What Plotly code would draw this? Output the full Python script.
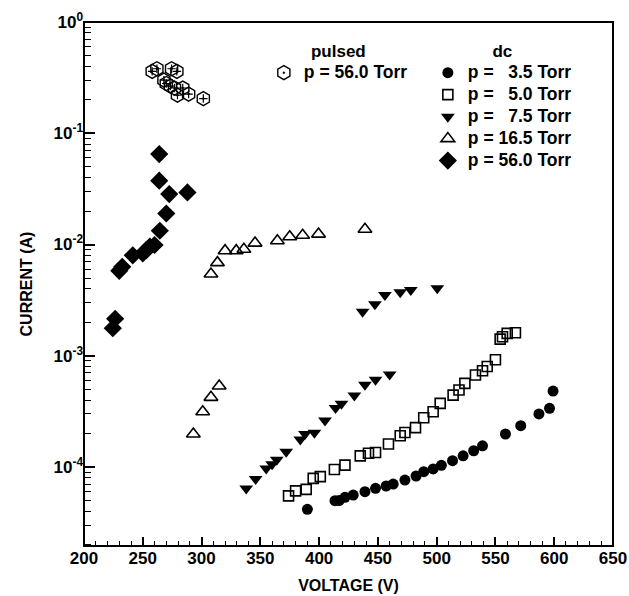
import plotly.graph_objects as go

# ---------------- data ----------------
pulsed_56_V = [258, 262, 274.5, 279, 268, 270, 273.5, 277, 284, 279.5, 289, 301.5]
pulsed_56_I = [0.36, 0.38, 0.38, 0.36, 0.30, 0.28, 0.265, 0.255, 0.255, 0.22, 0.225, 0.205]

dc_35_V = [390, 413.5, 417, 422, 429, 439, 448, 457, 463, 473, 482.5, 489, 497, 504,
           513.5, 522.5, 531.5, 539, 558.5, 571.5, 587, 596, 599]
dc_35_I = [4.17e-5, 4.98e-5, 5.0e-5, 5.34e-5, 5.6e-5, 6.0e-5, 6.43e-5, 6.75e-5, 7.03e-5,
           7.64e-5, 8.3e-5, 9.07e-5, 9.6e-5, 1.035e-4, 1.14e-4, 1.26e-4, 1.40e-4, 1.55e-4,
           1.98e-4, 2.35e-4, 3.0e-4, 3.37e-4, 4.82e-4]

dc_50_V = [374, 380, 389, 395, 401, 413, 422, 435, 442, 448, 459, 469, 473, 482, 489,
           497, 503, 514, 519, 524, 533, 539, 543, 550, 554, 556, 560, 567]
dc_50_I = [5.5e-5, 6.1e-5, 6.3e-5, 7.9e-5, 8.2e-5, 9.5e-5, 1.04e-4, 1.26e-4, 1.33e-4,
           1.35e-4, 1.61e-4, 1.91e-4, 2.04e-4, 2.26e-4, 2.77e-4, 3.14e-4, 3.73e-4, 4.43e-4,
           4.92e-4, 5.65e-4, 6.72e-4, 7.34e-4, 8.0e-4, 9.2e-4, 1.41e-3, 1.48e-3, 1.59e-3, 1.61e-3]

dc_75_V = [338, 346, 355, 360, 364, 372, 384, 388, 396, 405, 414, 419, 430, 439, 448, 460,
           437, 447.5, 456, 469, 478, 500.5]
dc_75_I = [6.4e-5, 7.8e-5, 9.7e-5, 1.06e-4, 1.16e-4, 1.37e-4, 1.77e-4, 1.98e-4, 2.03e-4,
           2.62e-4, 3.4e-4, 3.7e-4, 4.4e-4, 5.5e-4, 6.1e-4, 6.8e-4,
           2.49e-3, 2.9e-3, 3.52e-3, 3.72e-3, 3.9e-3, 4.04e-3]

dc_165_V = [293, 301, 308, 315, 308, 313.5, 320, 329.5, 336, 345.5, 364.5, 375, 386, 399.5, 439]
dc_165_I = [1.98e-4, 3.14e-4, 4.23e-4, 5.35e-4, 5.43e-3, 6.87e-3, 8.8e-3, 8.8e-3, 9.06e-3,
            1.03e-2, 1.08e-2, 1.175e-2, 1.21e-2, 1.24e-2, 1.37e-2]

dc_560_V = [224.5, 226.5, 230, 232.5, 241.5, 250, 253, 256, 260, 264.5, 270, 272.5, 264, 264, 288]
dc_560_I = [1.77e-3, 2.15e-3, 5.8e-3, 6.3e-3, 8.0e-3, 8.3e-3, 8.9e-3, 9.6e-3, 9.9e-3,
            1.33e-2, 1.9e-2, 2.84e-2, 3.75e-2, 6.5e-2, 2.94e-2]

y_tickvals = [1e-4, 1e-3, 1e-2, 1e-1, 1]
y_ticktext = ["10<sup>-4</sup>", "10<sup>-3</sup>", "10<sup>-2</sup>", "10<sup>-1</sup>", "10<sup>0</sup>"]

X_RANGE = [200, 650]
Y_RANGE = [-4.71, 0]
Y_MINOR = [m * 10 ** e for e in range(-5, 0) for m in range(2, 10)]

# ---------------- figure ----------------
FONT = "Liberation Sans"
BIG = '<span style="font-size:17.5px">{}</span>'
fig = go.Figure()

fig.add_trace(go.Scatter(
    x=pulsed_56_V, y=pulsed_56_I, mode="markers", name=BIG.format("p = 56.0 Torr"),
    legend="legend",
    marker=dict(symbol="hexagon-open-dot", size=14, color="black", line=dict(width=1.4, color="black"))))
fig.add_trace(go.Scatter(
    x=pulsed_56_V, y=pulsed_56_I, mode="markers", showlegend=False, hoverinfo="skip",
    marker=dict(symbol="cross-thin-open", size=6, color="black", line=dict(width=1.2, color="black"))))

dc_series = [
    ("p = \u20073.5 Torr", dc_35_V, dc_35_I, dict(symbol="circle", size=11, color="black")),
    ("p = \u20075.0 Torr", dc_50_V, dc_50_I, dict(symbol="square-open", size=10, color="black", line=dict(width=1.6, color="black"))),
    ("p = \u20077.5 Torr", dc_75_V, dc_75_I, dict(symbol="triangle-down", size=12, color="black")),
    ("p = 16.5 Torr", dc_165_V, dc_165_I, dict(symbol="triangle-up-open", size=12, color="black", line=dict(width=1.6, color="black"))),
    ("p = 56.0 Torr", dc_560_V, dc_560_I, dict(symbol="diamond", size=14, color="black")),
]
for name, xs, ys, mk in dc_series:
    fig.add_trace(go.Scatter(x=xs, y=ys, mode="markers", name=BIG.format(name), legend="legend2", marker=mk))

tickfont = dict(family=FONT, size=17, color="black", weight="bold")
axis_common = dict(
    showline=False,
    ticks="inside", tickcolor="black", tickwidth=1.5,
    showgrid=False, zeroline=False, automargin=False,
    tickfont=tickfont,
)
x_minor = dict(dtick=10, tick0=200, ticks="inside", ticklen=5, tickcolor="black", tickwidth=1.2)
y_minor = dict(tickmode="array", tickvals=Y_MINOR, ticks="inside", ticklen=7,
               tickcolor="black", tickwidth=1.2)

fig.update_layout(
    xaxis=dict(**axis_common, range=X_RANGE, dtick=50, tick0=200, ticklen=9, minor=x_minor,
               title=dict(text="VOLTAGE (V)", font=dict(family=FONT, size=16, color="black", weight="bold"), standoff=12)),
    yaxis=dict(**axis_common, type="log", range=Y_RANGE, tickmode="array",
               tickvals=y_tickvals, ticktext=y_ticktext, ticklen=11, minor=y_minor,
               title=dict(text="CURRENT (A)", font=dict(family=FONT, size=16, color="black", weight="bold"), standoff=16)),
    xaxis2=dict(**axis_common, range=X_RANGE, dtick=50, tick0=200, ticklen=9, minor=x_minor,
                overlaying="x", side="top", showticklabels=False, anchor="y2"),
    yaxis2=dict(**axis_common, type="log", range=Y_RANGE, tickmode="array",
                tickvals=y_tickvals, ticklen=11, minor=y_minor,
                overlaying="y", side="right", showticklabels=False, anchor="x2"),
    shapes=[dict(type="rect", xref="paper", yref="paper", x0=0, y0=0, x1=1, y1=1,
                 line=dict(color="black", width=2), fillcolor="rgba(0,0,0,0)", layer="above")],
)

legend_font = dict(family=FONT, size=14.6, color="black", weight="bold")
title_font = dict(family=FONT, size=17, color="black", weight="bold")
fig.update_layout(
    width=629, height=596,
    margin=dict(l=84, r=16, t=22, b=50),
    paper_bgcolor="white", plot_bgcolor="white",
    font=dict(family=FONT, color="black"),
    legend=dict(x=0.340, y=0.976, xanchor="left", yanchor="top", bgcolor="rgba(0,0,0,0)",
                borderwidth=0, font=legend_font,
                title=dict(text="pulsed", side="top center", font=title_font)),
    legend2=dict(x=0.650, y=0.976, xanchor="left", yanchor="top", bgcolor="rgba(0,0,0,0)",
                 borderwidth=0, font=legend_font, tracegroupgap=0,
                 title=dict(text="dc", side="top center", font=title_font)),
)

fig.write_html("out.html", config={"displayModeBar": False},
               post_script="document.body.style.margin='0';")
